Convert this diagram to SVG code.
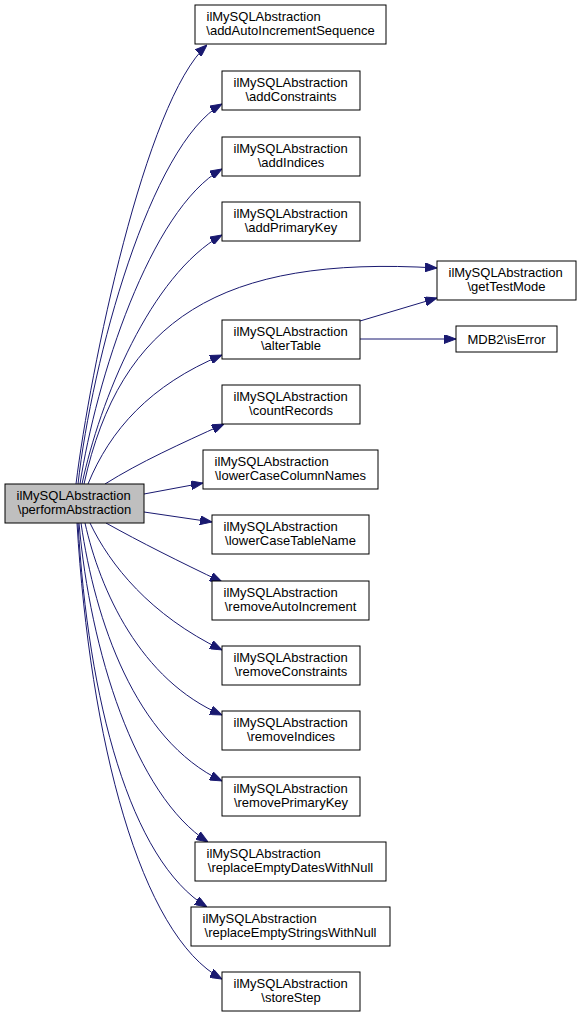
<svg xmlns="http://www.w3.org/2000/svg" width="581" height="1019" viewBox="0 0 581 1019">
<style>
.n rect{fill:#fff;stroke:#000;stroke-width:1}
.n.m rect{fill:#bfbfbf}
.n text{font-family:"Liberation Sans",Arial,sans-serif;font-size:13px;fill:#000}
.n .c{text-anchor:middle}
.e path{fill:none;stroke:#191970;stroke-width:1;marker-end:url(#ah)}
</style>
<defs>
<marker id="ah" markerUnits="userSpaceOnUse" markerWidth="12" markerHeight="9" refX="12" refY="4.5" orient="auto">
<path d="M0,0 L12,4.5 L0,9 z" fill="#191970" stroke="#191970" stroke-width="1"/>
</marker>
</defs>
<rect width="581" height="1019" fill="#fff"/>
<g class="e" id="edges">
<path d="M76,484 C90,370 145,101 207,45"/>
<path d="M78,484 C92,360 150,145 222,104"/>
<path d="M80,484 C96,380 150,210 222,169"/>
<path d="M82,484 C100,400 150,276 222,235"/>
<path d="M84,484 C120,320 220,255 437,268"/>
<path d="M88,484 C110,430 150,385 222,355"/>
<path d="M105,484 C140,462 180,444 224,424"/>
<path d="M144,494 L203,483"/>
<path d="M144,512 L212,522"/>
<path d="M106,523 C140,542 180,562 222,582"/>
<path d="M90,523 C110,565 150,615 222,650"/>
<path d="M85,523 C100,590 140,680 222,715"/>
<path d="M81,523 C95,620 135,740 222,781"/>
<path d="M79,523 C90,650 135,795 208,842"/>
<path d="M78,523 C88,700 130,860 207,907"/>
<path d="M77,523 C90,740 140,935 222,979"/>
<path d="M360,321 L437,298"/>
<path d="M360,339 L456,339"/>
</g>
<g class="n m" id="performAbstraction"><rect x="5" y="484" width="139" height="39"/><text x="16.5" y="499.5">ilMySQLAbstraction</text><text class="c" x="74.5" y="514">\performAbstraction</text></g>
<g class="n" id="addAutoIncrementSequence"><rect x="195" y="5" width="191" height="39"/><text x="206.5" y="20.5">ilMySQLAbstraction</text><text class="c" x="290.5" y="35">\addAutoIncrementSequence</text></g>
<g class="n" id="addConstraints"><rect x="222" y="71" width="138" height="39"/><text x="233.5" y="86.5">ilMySQLAbstraction</text><text class="c" x="291" y="101">\addConstraints</text></g>
<g class="n" id="addIndices"><rect x="222" y="137" width="138" height="39"/><text x="233.5" y="152.5">ilMySQLAbstraction</text><text class="c" x="291" y="167">\addIndices</text></g>
<g class="n" id="addPrimaryKey"><rect x="222" y="202" width="138" height="39"/><text x="233.5" y="217.5">ilMySQLAbstraction</text><text class="c" x="291" y="232">\addPrimaryKey</text></g>
<g class="n" id="getTestMode"><rect x="437" y="261" width="139" height="39"/><text x="448.5" y="276.5">ilMySQLAbstraction</text><text class="c" x="506.5" y="291">\getTestMode</text></g>
<g class="n" id="alterTable"><rect x="222" y="320" width="138" height="39"/><text x="233.5" y="335.5">ilMySQLAbstraction</text><text class="c" x="291" y="350">\alterTable</text></g>
<g class="n" id="isError"><rect x="456" y="326" width="101" height="26"/><text class="c" x="506.5" y="343.5">MDB2\isError</text></g>
<g class="n" id="countRecords"><rect x="222" y="385" width="138" height="39"/><text x="233.5" y="400.5">ilMySQLAbstraction</text><text class="c" x="291" y="415">\countRecords</text></g>
<g class="n" id="lowerCaseColumnNames"><rect x="203" y="450" width="175" height="39"/><text x="214.5" y="465.5">ilMySQLAbstraction</text><text class="c" x="290.5" y="480">\lowerCaseColumnNames</text></g>
<g class="n" id="lowerCaseTableName"><rect x="212" y="515" width="157" height="39"/><text x="223.5" y="530.5">ilMySQLAbstraction</text><text class="c" x="290.5" y="545">\lowerCaseTableName</text></g>
<g class="n" id="removeAutoIncrement"><rect x="212" y="581" width="157" height="39"/><text x="223.5" y="596.5">ilMySQLAbstraction</text><text class="c" x="290.5" y="611">\removeAutoIncrement</text></g>
<g class="n" id="removeConstraints"><rect x="222" y="646" width="138" height="39"/><text x="233.5" y="661.5">ilMySQLAbstraction</text><text class="c" x="291" y="676">\removeConstraints</text></g>
<g class="n" id="removeIndices"><rect x="222" y="711" width="138" height="39"/><text x="233.5" y="726.5">ilMySQLAbstraction</text><text class="c" x="291" y="741">\removeIndices</text></g>
<g class="n" id="removePrimaryKey"><rect x="222" y="777" width="138" height="39"/><text x="233.5" y="792.5">ilMySQLAbstraction</text><text class="c" x="291" y="807">\removePrimaryKey</text></g>
<g class="n" id="replaceEmptyDatesWithNull"><rect x="195" y="842" width="191" height="39"/><text x="206.5" y="857.5">ilMySQLAbstraction</text><text class="c" x="290.5" y="872">\replaceEmptyDatesWithNull</text></g>
<g class="n" id="replaceEmptyStringsWithNull"><rect x="191" y="907" width="199" height="39"/><text x="202.5" y="922.5">ilMySQLAbstraction</text><text class="c" x="290.5" y="937">\replaceEmptyStringsWithNull</text></g>
<g class="n" id="storeStep"><rect x="222" y="972" width="138" height="39"/><text x="233.5" y="987.5">ilMySQLAbstraction</text><text class="c" x="291" y="1002">\storeStep</text></g>
</svg>
